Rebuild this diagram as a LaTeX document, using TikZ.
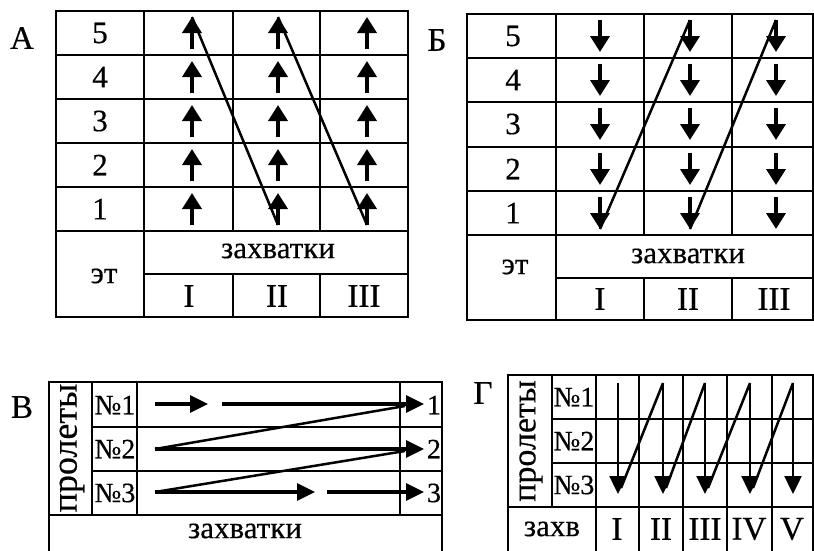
\documentclass[tikz,border=0pt]{standalone}
\usepackage{fontspec}
\setmainfont[FakeBold=0.4]{Liberation Serif}
\usetikzlibrary{arrows.meta}
\tikzset{
  grid/.style={line width=1.8pt},
  upcell/.style={line width=3.6pt, -{Triangle[length=16pt,width=19pt]}},
  diag/.style={line width=2.5pt},
  harrow/.style={line width=3.2pt, -{Triangle[length=18pt,width=17pt]}},
  zarrow/.style={line width=2.4pt, -{Triangle[length=18pt,width=17pt]}},
  big/.style={font=\fontsize{33}{33}\selectfont, inner sep=0pt},
  num/.style={font=\fontsize{31}{31}\selectfont, inner sep=0pt},
  word/.style={font=\fontsize{31}{31}\selectfont, inner sep=0pt},
  small/.style={font=\fontsize{28}{28}\selectfont, inner sep=0pt},
}
\begin{document}
\begin{tikzpicture}[x=1pt,y=-1pt]
\useasboundingbox (0,0) rectangle (814,550);
\fill[white] (0,0) rectangle (814,550);

% ---------------- Panel A ----------------
\node[big] (labA) at (22,38) {А};
\draw[grid] (56,11) rectangle (408,317);
\foreach \yy in {55,99,143,187,231} \draw[grid] (56,\yy) -- (408,\yy);
\draw[grid] (144,274) -- (408,274);
\draw[grid] (144,11) -- (144,317);
\foreach \xx in {233,320} {
  \draw[grid] (\xx,11) -- (\xx,231);
  \draw[grid] (\xx,274) -- (\xx,317);
}
\foreach \r/\yt in {5/11,4/55,3/99,2/143,1/187}
  \node[num] (A-lab-\r) at (100,\yt+22) {\r};
\node[word] (A-et) at (104,276) {эт};
\node[word] (A-zah) at (278,251) {захватки};
\node[big] (A-I) at (189,296) {I};
\node[big] (A-II) at (277,296) {II};
\node[big] (A-III) at (364,296) {III};
\foreach \c/\xx in {1/192,2/278,3/367} {
  \foreach \r/\yt in {5/11,4/55,3/99,2/143,1/187} {
    \coordinate (A-\c-\r-s) at (\xx,\yt+38);
    \coordinate (A-\c-\r-e) at (\xx,\yt+6);
    \draw[upcell] (A-\c-\r-s) -- (A-\c-\r-e);
  }
}
\draw[diag] (A-1-5-e) -- (A-2-1-s);
\draw[diag] (A-2-5-e) -- (A-3-1-s);

% ---------------- Panel B (Б) ----------------
\node[big] (labB) at (437,40) {Б};
\draw[grid] (467,14) rectangle (813,320);
\foreach \yy in {58,102,147,191,235} \draw[grid] (467,\yy) -- (813,\yy);
\draw[grid] (556,278) -- (813,278);
\draw[grid] (556,14) -- (556,320);
\foreach \xx in {644,732} {
  \draw[grid] (\xx,14) -- (\xx,235);
  \draw[grid] (\xx,278) -- (\xx,320);
}
\foreach \r/\yt in {5/14,4/58,3/102,2/147,1/191}
  \node[num] (B-lab-\r) at (513,\yt+22) {\r};
\node[word] (B-et) at (515,267) {эт};
\node[word] (B-zah) at (688,256) {захватки};
\node[big] (B-I) at (600,299) {I};
\node[big] (B-II) at (688,299) {II};
\node[big] (B-III) at (774,299) {III};
\foreach \c/\xx in {1/600,2/690,3/776} {
  \foreach \r/\yt in {5/14,4/58,3/102,2/147,1/191} {
    \coordinate (B-\c-\r-s) at (\xx,\yt+6);
    \coordinate (B-\c-\r-e) at (\xx,\yt+38);
    \draw[upcell] (B-\c-\r-s) -- (B-\c-\r-e);
  }
}
\draw[diag] (B-1-1-e) -- (B-2-5-s);
\draw[diag] (B-2-1-e) -- (B-3-5-s);

% ---------------- Panel V (В) ----------------
\node[big] (labV) at (22,407) {В};
\draw[grid] (49,560) -- (49,382) -- (442,382) -- (442,560);
\draw[grid] (49,515) -- (442,515);
\foreach \yy in {427,471} \draw[grid] (92,\yy) -- (442,\yy);
\foreach \xx in {92,137,400} \draw[grid] (\xx,382) -- (\xx,515);
\node[font=\fontsize{36}{36}\selectfont, inner sep=0pt, rotate=90] (V-prol) at (72,448) {пролеты};
\node[small] (V-n1) at (115,405) {№1};
\node[small] (V-n2) at (115,449) {№2};
\node[small] (V-n3) at (115,493) {№3};
\node[small] (V-r1) at (434,405) {1};
\node[small] (V-r2) at (434,449) {2};
\node[small] (V-r3) at (434,493) {3};
\node[word] (V-zah) at (245,531) {захватки};
\coordinate (V1a) at (155,404); \coordinate (V1b) at (208,404);
\coordinate (V1c) at (222,404); \coordinate (V1d) at (424,404);
\coordinate (V2a) at (155,449); \coordinate (V2d) at (424,449);
\coordinate (V3a) at (155,492); \coordinate (V3b) at (315,492);
\coordinate (V3c) at (327,492); \coordinate (V3d) at (424,492);
\coordinate (V1j) at (405,406); \coordinate (V2j) at (405,451);
\draw[harrow] (V1a) -- (V1b);
\draw[harrow] (V1c) -- (V1d);
\draw[harrow] (V2a) -- (V2d);
\draw[harrow] (V3a) -- (V3b);
\draw[harrow] (V3c) -- (V3d);
\draw[diag] (V2a) -- (V1j);
\draw[diag] (V3a) -- (V2j);

% ---------------- Panel G (Г) ----------------
\node[big] (labG) at (483,393) {Г};
\draw[grid] (508,560) -- (508,375) -- (813,375) -- (813,560);
\draw[grid] (508,507) -- (813,507);
\foreach \yy in {419,463} \draw[grid] (552,\yy) -- (813,\yy);
\draw[grid] (552,375) -- (552,507);
\foreach \xx in {596,639,683,727,772} \draw[grid] (\xx,375) -- (\xx,560);
\node[font=\fontsize{34}{34}\selectfont, inner sep=0pt, rotate=90] (G-prol) at (531,441) {пролеты};
\node[small] (G-n1) at (574,397) {№1};
\node[small] (G-n2) at (574,441) {№2};
\node[small] (G-n3) at (574,485) {№3};
\node[word] (G-zahv) at (552,529) {захв};
\node[big] (G-I) at (617,529) {I};
\node[big] (G-II) at (661,529) {II};
\node[big] (G-III) at (705,529) {III};
\node[big] (G-IV) at (749,529) {IV};
\node[big] (G-V) at (792,529) {V};
\foreach \i/\xx in {1/618,2/663,3/705,4/750,5/793} {
  \coordinate (G\i t) at (\xx,383);
  \coordinate (G\i b) at (\xx,494);
  \coordinate (G\i j) at (\xx+3,488);
  \draw[zarrow] (G\i t) -- (G\i b);
}
\draw[diag] (G1j) -- (G2t);
\draw[diag] (G2j) -- (G3t);
\draw[diag] (G3j) -- (G4t);
\draw[diag] (G4j) -- (G5t);
\end{tikzpicture}
\end{document}
